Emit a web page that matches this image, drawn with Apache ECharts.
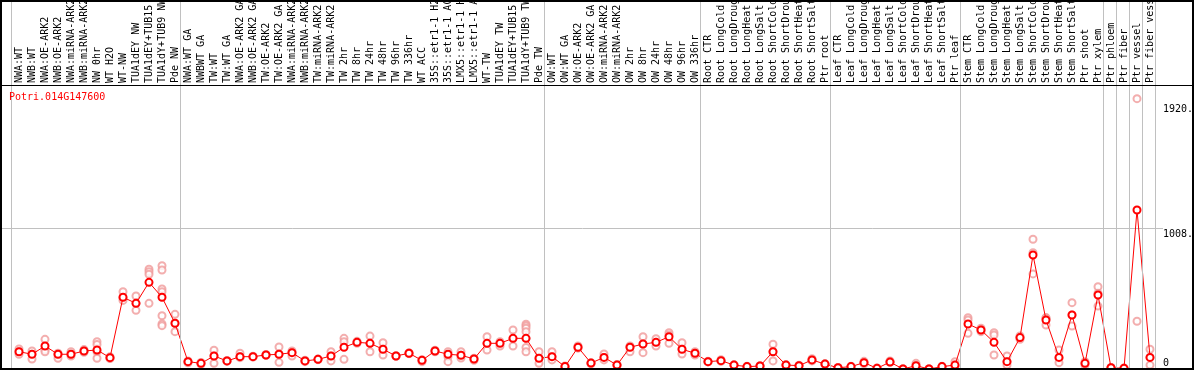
<!DOCTYPE html>
<html><head><meta charset="utf-8">
<script src="https://cdn.jsdelivr.net/npm/echarts@6/dist/echarts.min.js"></script>
<style>html,body{margin:0;padding:0;background:#fff}#c{width:1194px;height:370px}</style>
</head><body><div id="c"></div>
<script>
const geneName = 'Potri.014G147600';

const categories = [
'NWA:WT','NWB:WT','NWA:OE-ARK2','NWB:OE-ARK2','NWA:miRNA-ARK2','NWB:miRNA-ARK2','NW 0hr','WT H2O','WT-NW','TUA1dEY NW','TUA1dEY+TUB15 NW','TUA1dY+TUB9 NW','Pde NW',
'NWA:WT GA','NWBWT GA','TW:WT','TW:WT GA','NWA:OE-ARK2 GA','NWB:OE-ARK2 GA','TW:OE-ARK2','TW:OE-ARK2 GA','NWA:miRNA-ARK2 GA','NWB:miRNA-ARK2 GA','TW:miRNA-ARK2','TW:miRNA-ARK2 GA','TW 2hr','TW 8hr','TW 24hr','TW 48hr','TW 96hr','TW 336hr','WT ACC','35S::etr1-1 H2O','35S::etr1-1 ACC','LMX5::etr1-1 H2O','LMX5::etr1-1 ACC','WT-TW','TUA1dEY TW','TUA1dEY+TUB15 TW','TUA1dY+TUB9 TW','Pde TW',
'OW:WT','OW:WT GA','OW:OE-ARK2','OW:OE-ARK2 GA','OW:miRNA-ARK2','OW:miRNA-ARK2 GA','OW 2hr','OW 8hr','OW 24hr','OW 48hr','OW 96hr','OW 336hr',
'Root CTR','Root LongCold','Root LongDrought','Root LongHeat','Root LongSalt','Root ShortCold','Root ShortDrought','Root ShortHeat','Root ShortSalt','Ptr root',
'Leaf CTR','Leaf LongCold','Leaf LongDrought','Leaf LongHeat','Leaf LongSalt','Leaf ShortCold','Leaf ShortDrought','Leaf ShortHeat','Leaf ShortSalt','Ptr leaf',
'Stem CTR','Stem LongCold','Stem LongDrought','Stem LongHeat','Stem LongSalt','Stem ShortCold','Stem ShortDrought','Stem ShortHeat','Stem ShortSalt','Ptr shoot','Ptr xylem','Ptr phloem','Ptr fiber','Ptr vessel','Ptr fiber vessel'
];

const means = [
140,122,180,122,122,145,152,98,523,480,628,523,340,
70,58,110,75,105,105,117,122,133,75,86,110,171,206,199,157,110,129,79,145,122,115,89,199,199,234,234,94,
105,35,171,60,100,46,171,194,206,245,157,129,
70,77,46,35,39,140,46,42,82,53,
27,35,63,23,67,18,42,18,35,46,
335,293,206,70,239,820,363,100,398,58,539,27,23,1137,100
];

const replicates = [
[159,140,122],[145,122,89],[227,152,140],[129,117,94],[140,122,110],[155,145,136],[210,190,140,94],[105,95,92],
[562,520,501],[532,480,431],[720,703,684,480],[745,715,581,562,393,335,323],[403,340,281],
[75,68,62],[64,58,52],[150,110,58],[78,75,72],[129,105,98],[108,105,102],[120,117,114],[173,122,65],[145,133,110],
[80,75,70],[88,86,84],[140,110,75],[234,210,86],[213,206,199],[250,199,140],[203,157,117],[112,110,108],[132,129,126],
[84,79,70],[150,145,140],[140,105,70],[140,115,96],[94,89,80],[245,199,152],[210,199,180],[293,234,180],
[333,320,305,281,234,170,140],[140,94,58],
[140,105,82],[40,35,30],[180,171,165],[62,58,55],[124,100,82],[50,46,42],[180,171,140],[245,194,133],[231,206,180],[274,257,199],[203,157,124],[140,129,117],
[72,70,68],[84,77,72],[48,46,44],[37,35,33],[41,39,37],[192,140,75],[48,46,44],[44,42,40],[91,82,75],[55,53,51],
[29,27,25],[37,35,33],[72,63,55],[25,23,21],[75,70,65],[20,18,16],[58,42,27],[20,18,16],[37,35,33],[70,46,35],
[379,363,269],[305,293,281],[274,257,117],[110,70,46],[251,239,227],[931,836,687],[380,375,328],[152,94,63],[485,398,321],[70,58,46],[597,551,461],[29,27,25],[25,23,21],[1920,354],[157,100,46]
];

const yLabelValues = [0, 1008, 1920];
const groupBoundaries = [0, 13, 41, 53, 63, 73, 84, 85, 86, 87, 88];
const yMax = 2016;
const yInterval = 1008;

const FONT = 'DejaVu Sans Mono';
const repPoints = [];
replicates.forEach((r, i) => r.forEach(v => repPoints.push([i, v])));

const chart = echarts.init(document.getElementById('c'), null, {renderer: 'canvas'});
const hiddenX = g => ({type: 'value', gridIndex: g, show: false, min: 0, max: 1});
const hiddenY = g => ({type: 'value', gridIndex: g, show: false, min: 0, max: 1});

chart.setOption({
  animation: false,
  backgroundColor: '#fff',
  title: {
    text: geneName, left: 9, top: 92, padding: 0,
    textStyle: {fontFamily: FONT, fontSize: 10, fontWeight: 'normal', color: '#ff0000'}
  },
  grid: [
    {left: 12.5, top: 85, width: 1144, height: 286.6, outerBoundsMode: 'none', containLabel: false},
    {left: 2, top: 85, width: 1161, height: 286.6, outerBoundsMode: 'none', containLabel: false},
    {left: 11.5, top: 1, width: 1144, bottom: 2, outerBoundsMode: 'none', containLabel: false},
    {left: 1, right: 1, top: 1, bottom: 1, show: true, borderColor: '#000', borderWidth: 2, z: 10, outerBoundsMode: 'none'},
    {left: 1, right: 1, top: 85.5, bottom: 1, show: true, borderColor: '#000', borderWidth: 1, z: 10, outerBoundsMode: 'none'}
  ],
  xAxis: [
    {
      type: 'category', gridIndex: 0, data: categories, position: 'top', boundaryGap: true,
      axisLine: {show: false}, axisTick: {show: false}, splitLine: {show: false},
      axisLabel: {rotate: 90, interval: 0, margin: 2, fontFamily: FONT, fontSize: 10, color: '#000'}
    },
    hiddenX(1),
    {type: 'value', gridIndex: 2, show: false, min: 0, max: 88},
    hiddenX(3),
    hiddenX(4)
  ],
  yAxis: [
    {type: 'value', gridIndex: 0, min: 0, max: yMax, show: false},
    {
      type: 'value', gridIndex: 1, position: 'right', min: 0, max: yMax, interval: yInterval,
      axisLine: {show: false}, axisTick: {show: false},
      splitLine: {show: true, lineStyle: {color: '#c0c0c0', width: 1, type: 'solid'}},
      axisLabel: {
        customValues: yLabelValues, margin: 0, fontFamily: FONT, fontSize: 10, color: '#000', align: 'left',
        formatter: v => v === 0 ? '{c|0}' : (v === 1920 ? '{a|' + v + '.}' : '{b|' + v + '.}'),
        rich: {
          a: {fontFamily: FONT, fontSize: 10, color: '#000', padding: [22, 0, 0, 0]},
          b: {fontFamily: FONT, fontSize: 10, color: '#000', padding: [12, 0, 0, 0]},
          c: {fontFamily: FONT, fontSize: 10, color: '#000', padding: [0, 0, 17, 0]}
        }
      }
    },
    hiddenY(2),
    hiddenY(3),
    hiddenY(4)
  ],
  series: [
    {
      type: 'line', xAxisIndex: 2, yAxisIndex: 2, data: [], symbol: 'none', silent: true, z: 1,
      markLine: {
        silent: true, symbol: ['none', 'none'], label: {show: false},
        lineStyle: {color: '#c0c0c0', width: 1, type: 'solid'},
        emphasis: {disabled: true},
        data: groupBoundaries.map(v => ({xAxis: v}))
      }
    },
    {
      type: 'scatter', xAxisIndex: 0, yAxisIndex: 0, data: repPoints, symbol: 'emptyCircle', symbolSize: 7,
      itemStyle: {color: '#f09a9a', borderColor: '#f09a9a', borderWidth: 1}, z: 3, silent: true
    },
    {
      type: 'line', xAxisIndex: 0, yAxisIndex: 0, data: means, symbol: 'emptyCircle', symbolSize: 7, showSymbol: true,
      lineStyle: {color: '#ff0000', width: 1}, itemStyle: {color: '#ff0000', borderColor: '#ff0000', borderWidth: 1.8},
      z: 4, silent: true
    }
  ]
});
</script>
</body></html>
